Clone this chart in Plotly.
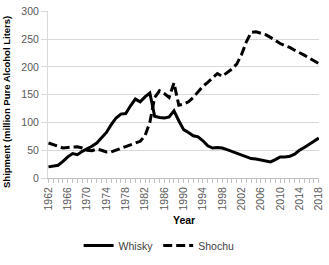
import plotly.graph_objects as go

years = list(range(1962, 2019))
whisky = [20, 21, 23, 30, 38, 44, 42, 48, 52, 57, 63, 72, 82, 96, 108, 115, 116, 130, 142, 137,
          146, 153, 111, 109, 108, 110, 121, 103, 87, 82, 76, 74, 67, 58, 54, 55, 54, 51, 48, 44,
          41, 38, 35, 34, 32, 31, 29, 33, 38, 38, 39, 43, 50, 55, 60, 66, 72]
shochu = [63, 60, 56, 54, 55, 55, 56, 54, 50, 49, 52, 50, 47, 47, 50, 53, 57, 60, 62, 66,
          76, 100, 145, 157, 152, 145, 171, 131, 133, 137, 145, 155, 165, 172, 180, 188, 183, 190, 196, 205,
          222, 245, 262, 263, 261, 258, 253, 247, 242, 238, 235, 230, 226, 221, 216, 211, 206]
xticks = list(range(1962, 2019, 4))
yticks = [0, 50, 100, 150, 200, 250, 300]

font = "Liberation Sans, Arial, sans-serif"
gray = "#595959"

fig = go.Figure()
fig.add_trace(go.Scatter(x=years, y=whisky, mode="lines", name="Whisky",
                         line=dict(color="black", width=3)))
fig.add_trace(go.Scatter(x=years, y=shochu, mode="lines", name="Shochu",
                         line=dict(color="black", width=3, dash="9px,4px")))

fig.update_layout(
    width=329, height=265,
    margin=dict(l=48, r=5, t=5, b=82),
    paper_bgcolor="white", plot_bgcolor="white",
    font=dict(family=font, size=10.5, color=gray),
    showlegend=True,
    legend=dict(orientation="h", x=0.41, xanchor="center", y=-0.404, yanchor="middle",
                font=dict(size=10.5, color="#404040"), itemwidth=30, tracegroupgap=0,
                bgcolor="rgba(0,0,0,0)"),
    xaxis=dict(range=[1961.9, 2018.05], tickmode="array", tickvals=xticks,
               ticktext=[str(v) for v in xticks], tickangle=-90, ticklabeloverflow="allow",
               showgrid=False, zeroline=False, showline=True, linecolor="#bfbfbf", linewidth=1,
               ticks="outside", ticklen=4, tickcolor="#bfbfbf",
               minor=dict(dtick=1, tick0=1962, ticks="outside", ticklen=4, tickcolor="#bfbfbf", showgrid=False),
               tickfont=dict(size=10.5, color=gray)),
    yaxis=dict(range=[0, 300.5], tickmode="array", tickvals=yticks, ticklabeloverflow="allow",
               showgrid=True, gridcolor="#d9d9d9", gridwidth=1, zeroline=False,
               showline=True, linecolor="#d9d9d9", ticks="outside", ticklen=6, tickcolor="#d9d9d9",
               tickfont=dict(size=10.5, color=gray)),
    annotations=[
        dict(text="<b>Shipment (million Pure Alcohol Liters)</b>", textangle=-90,
             xref="paper", yref="paper", x=-0.155, y=0.455, xanchor="center", yanchor="middle",
             showarrow=False, font=dict(size=9.5, color="black", family=font)),
        dict(text="<b>Year</b>", xref="paper", yref="paper", x=0.5, y=-0.25,
             xanchor="center", yanchor="middle", showarrow=False,
             font=dict(size=10.5, color="black", family=font)),
    ],
)

fig.write_html("out.html")
